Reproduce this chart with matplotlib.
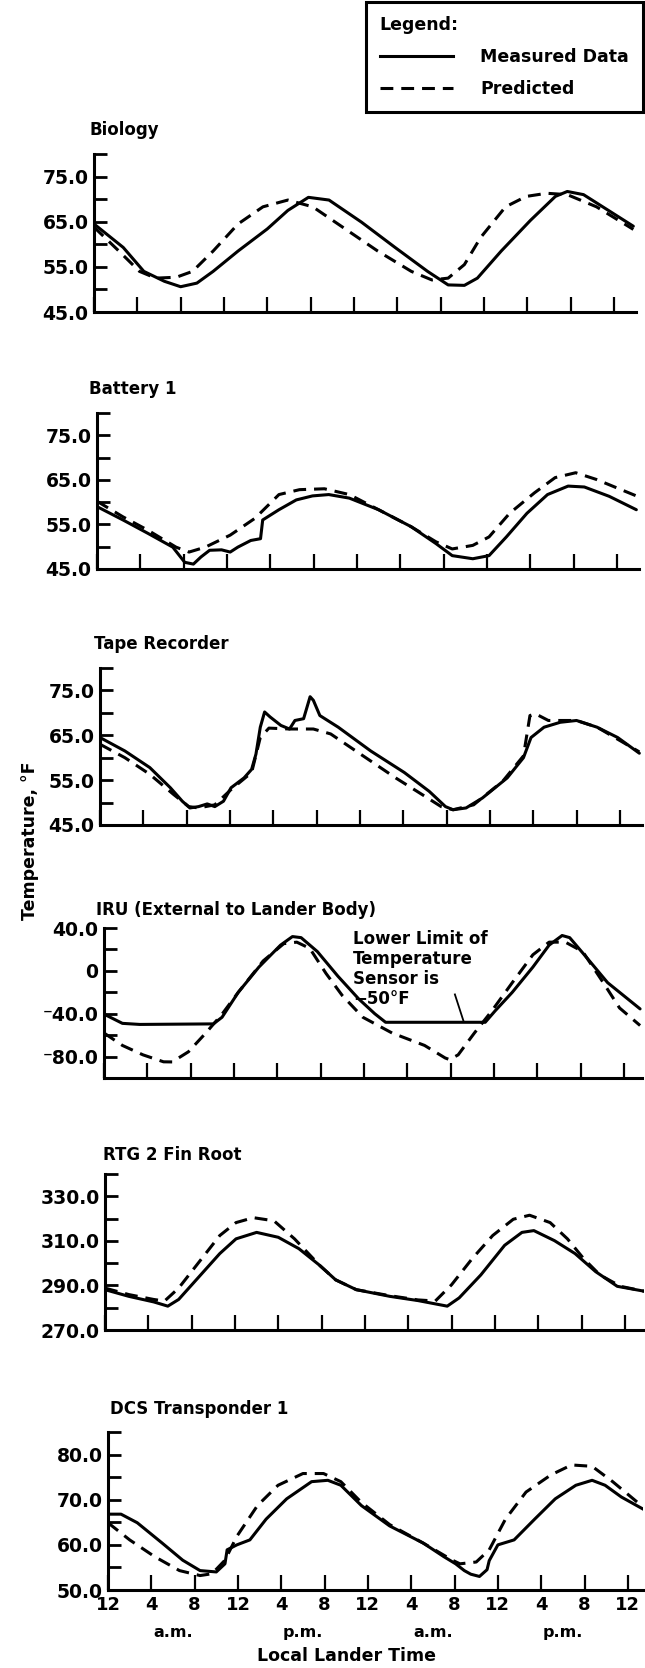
import matplotlib
matplotlib.use('Agg')
import matplotlib.pyplot as plt
from matplotlib.lines import Line2D

plt.rcParams['font.family'] = ['DejaVu Sans']
plt.rcParams['font.weight'] = 'bold'

W, H = 645, 1668

# hours after local midnight (0 .. 48), temperature in deg F
bio_meas_t = [0, 2.7, 4.6, 6.5, 8, 9.5, 11, 13.3, 16, 17.9, 19.8, 21.7, 24.7, 27.8, 30.8, 32.7, 34.2, 35.4, 37.6, 40.3, 42.6, 43.7, 45.2, 47.5, 49.8]
bio_meas = [64.5, 59.3, 54, 51.8, 50.6, 51.4, 54, 58.5, 63.4, 67.5, 70.4, 69.8, 64.9, 59.3, 54, 51, 50.9, 52.5, 58.5, 65.3, 70.6, 71.7, 71, 67.5, 64.0]
bio_pred_t = [0, 2.3, 4.2, 5.7, 7.6, 9.1, 11, 13.3, 15.6, 17.9, 20.2, 23.2, 26.2, 29.3, 31.2, 32.7, 34.2, 35.7, 38, 39.9, 41.8, 43.7, 46.4, 49.8]
bio_pred = [63.8, 58.5, 54, 52.5, 52.7, 54, 58.5, 64.5, 68.3, 69.8, 68.3, 63.4, 58.5, 54, 52.1, 52.5, 55.5, 61.5, 68.3, 70.6, 71.3, 71, 68.3, 63.3]

bat_meas_t = [0, 2.4, 4.7, 7, 8.1, 8.9, 9.6, 10.4, 11.5, 12.3, 13, 14.2, 15.1, 15.3, 16.8, 18.4, 19.9, 21.4, 23.3, 26, 29, 31.3, 32.8, 34.7, 36.2, 37.8, 39.7, 41.6, 43.5, 45, 47.3, 49.8]
bat_meas = [59, 56, 53, 49.9, 46.5, 46.1, 47.7, 49.2, 49.3, 48.8, 49.9, 51.4, 51.8, 56, 58.3, 60.5, 61.4, 61.7, 60.9, 58.3, 54.5, 50.7, 48, 47.3, 48, 52.2, 57.5, 61.7, 63.6, 63.4, 61.3, 58.3]
bat_pred_t = [0, 2.4, 4.7, 7.3, 8.5, 10, 12.3, 14.6, 16.8, 18.7, 21, 23.3, 26, 29, 31.3, 32.8, 34.7, 36.2, 38.1, 40.4, 42.3, 44.2, 46.1, 49.8]
bat_pred = [60.2, 56.7, 53.7, 49.9, 48.8, 49.9, 52.6, 56.4, 61.7, 62.8, 63, 61.7, 58.3, 54.5, 51.1, 49.5, 50.3, 52.2, 57.5, 62.1, 65.5, 66.6, 65.1, 61.4]

tape_meas_t = [0, 2.3, 4.6, 6.5, 7.6, 8.3, 9.1, 9.9, 10.6, 11.4, 12.1, 13.3, 14, 14.4, 14.8, 15.2, 15.7, 16.7, 17.5, 18, 18.8, 19.4, 19.7, 20.3, 22, 25, 28.1, 30.4, 31.9, 32.6, 33.8, 35.3, 37.6, 39.1, 39.8, 41, 42.5, 44, 45.9, 47.8, 49.8]
tape_meas = [64.5, 61.5, 57.8, 53.3, 50.3, 48.8, 49.1, 49.7, 49.1, 50.3, 53.3, 55.5, 57.4, 60.8, 66.8, 70.2, 69.1, 67.2, 66.4, 68.3, 68.7, 73.6, 72.8, 69.4, 66.8, 61.5, 56.7, 52.5, 49.1, 48.4, 48.8, 51, 55.5, 60, 64.5, 66.8, 67.9, 68.3, 66.8, 64.5, 61.0]
tape_pred_t = [0, 2.3, 4.6, 6.8, 8.2, 9.1, 10.6, 12.1, 14, 14.8, 15.6, 17.5, 19.7, 21.3, 24.3, 27.3, 30, 31.5, 32.6, 34.5, 37.2, 39.1, 39.7, 40.2, 41.4, 44, 45.9, 49.8]
tape_pred = [63, 60, 56.3, 51.8, 49.1, 48.8, 49.5, 52.9, 56.7, 64.5, 66.6, 66.4, 66.4, 65.3, 60.4, 55.5, 51.4, 49.1, 48.4, 49.5, 54.8, 60.4, 69.4, 69.8, 68.3, 68.3, 66.8, 61.3]

iru_meas_t = [0, 1.7, 3.3, 10.1, 10.9, 12.4, 14.3, 16.3, 17.4, 18.2, 19.7, 21.6, 23.5, 25, 26, 35.2, 36.1, 37.7, 39.6, 41.1, 42.3, 43, 44.6, 46.5, 49.5]
iru_meas = [-40.4, -49, -50, -49.5, -43.3, -20, 3.5, 24, 32, 31, 18, -5, -26, -40, -48, -48, -37.5, -20, 3.5, 24, 33, 31, 12, -11, -35.5]
iru_pred_t = [0, 1.7, 3.6, 5.5, 6.3, 7.8, 9.4, 10.9, 12.4, 14.7, 16.6, 17.8, 19, 20.5, 22, 23.9, 26.6, 29.6, 31.5, 31.9, 32.7, 34.2, 35.8, 37.7, 39.6, 41.1, 42.6, 44.2, 46.1, 47.6, 49.5]
iru_pred = [-58, -69.6, -78.4, -84.9, -85, -75.5, -58, -40.4, -20, 9.3, 25.4, 26.8, 21, -2.4, -23, -43.3, -58, -69.6, -81.3, -82.8, -78.4, -58, -37.5, -11, 15, 26.8, 26.8, 18, -11, -34.6, -51]

rtg_meas_t = [0, 2.2, 4.5, 5.8, 6.8, 8.7, 10.6, 12.1, 14, 16, 17.9, 19.8, 21.3, 23.2, 26.3, 28.9, 31.6, 32.7, 34.7, 36.9, 38.5, 39.6, 41.5, 43.4, 45.3, 47.3, 49.8]
rtg_meas = [288.1, 285.1, 282.6, 280.7, 283.7, 294, 304.3, 310.9, 313.8, 311.6, 306.5, 299.1, 292.5, 288.1, 285.1, 283.2, 280.7, 284.4, 294.7, 308, 313.8, 314.6, 310.1, 304.3, 296.2, 289.6, 287.4]
rtg_pred_t = [0, 2.2, 4.5, 5.5, 6.8, 8.7, 10.6, 12.1, 13.7, 15.6, 17.5, 19.8, 21.3, 23.2, 26.3, 28.9, 30.5, 32, 33.9, 35.8, 37.7, 39.2, 41.1, 42.7, 44.2, 45.7, 47.6, 49.8]
rtg_pred = [288.8, 285.9, 283.7, 283, 288.8, 300.6, 312.4, 318.2, 320.4, 319, 310.9, 299.1, 292.5, 288.1, 285.4, 283.5, 283, 290.3, 302, 312.4, 319.7, 321.5, 318.2, 310.9, 302, 294.7, 289.6, 287.4]

dcs_meas_t = [0, 1.2, 2.7, 5, 6.9, 8.5, 10, 10.8, 11, 11.9, 13.1, 14.6, 16.5, 18.8, 20.3, 21.5, 23.4, 26, 29.1, 31, 32.1, 32.9, 33.5, 34.3, 35, 35.2, 36, 37.5, 39.4, 41.3, 43.2, 44.7, 45.9, 47.4, 49.5]
dcs_meas = [66.8, 66.8, 64.9, 60.4, 56.6, 54.3, 54, 55.8, 58.9, 60, 61.1, 65.7, 70.2, 74, 74.3, 73.2, 68.7, 64.2, 60.4, 57.4, 55.8, 54.3, 53.5, 53, 54.5, 56.5, 60, 61.1, 65.7, 70.2, 73.2, 74.3, 73.2, 70.6, 67.8]
dcs_pred_t = [0, 2, 4.3, 6.6, 8.5, 9.6, 10.8, 11.9, 13.8, 15.7, 18, 19.9, 21.5, 23.4, 26, 29.1, 31.8, 32.5, 34, 35.2, 36.7, 38.6, 40.9, 42.8, 44.7, 46.6, 49.5]
dcs_pred = [64.9, 61.1, 57.4, 54.3, 53.2, 53.6, 56.6, 61.9, 68.7, 73.2, 75.8, 75.8, 74, 69.4, 64.5, 60.4, 56.6, 55.8, 56.2, 58.9, 65.7, 71.7, 75.5, 77.7, 77.4, 74, 68.2]

titles = ['Biology', 'Battery 1', 'Tape Recorder', 'IRU (External to Lander Body)', 'RTG 2 Fin Root', 'DCS Transponder 1']
y_ticks = [
    [45, 50, 55, 60, 65, 70, 75, 80],
    [45, 50, 55, 60, 65, 70, 75, 80],
    [45, 50, 55, 60, 65, 70, 75, 80],
    [-100, -80, -60, -40, -20, 0, 20, 40],
    [270, 280, 290, 300, 310, 320, 330, 340],
    [50, 55, 60, 65, 70, 75, 80, 85],
]
y_labels = [
    ['45.0', '', '55.0', '', '65.0', '', '75.0', ''],
    ['45.0', '', '55.0', '', '65.0', '', '75.0', ''],
    ['45.0', '', '55.0', '', '65.0', '', '75.0', ''],
    ['', '\u207b80.0', '', '\u207b40.0', '', '0', '', '40.0'],
    ['270.0', '', '290.0', '', '310.0', '', '330.0', ''],
    ['50.0', '', '60.0', '', '70.0', '', '80.0', ''],
]
x_ticks = list(range(0, 49, 4))
x_labels = ['12', '4', '8', '12', '4', '8', '12', '4', '8', '12', '4', '8', '12']
series = [
    (bio_meas_t, bio_meas, bio_pred_t, bio_pred),
    (bat_meas_t, bat_meas, bat_pred_t, bat_pred),
    (tape_meas_t, tape_meas, tape_pred_t, tape_pred),
    (iru_meas_t, iru_meas, iru_pred_t, iru_pred),
    (rtg_meas_t, rtg_meas, rtg_pred_t, rtg_pred),
    (dcs_meas_t, dcs_meas, dcs_pred_t, dcs_pred),
]

# layout in pixels: (spine x, top y, bottom y, title x, title y, right end of x axis in hours)
boxes = [
    (94, 154, 312, 89, 130, 50.0),
    (97, 413, 569, 89, 389, 50.0),
    (100, 668, 825, 94, 644, 50.0),
    (104, 928, 1078, 96, 910, 49.7),
    (105, 1174, 1330, 103, 1155, 49.8),
    (108, 1432, 1590, 110, 1409, 49.4),
]
PX_PER_HOUR = 10.83
lw = 2.2
dash = (0, (4.2, 2.6))

fig = plt.figure(figsize=(W / 100, H / 100), dpi=100)

for i in range(6):
    left, top, bot, tx, ty, xmax = boxes[i]
    ax = fig.add_axes([left / W, 1 - bot / H, xmax * PX_PER_HOUR / W, (bot - top) / H])
    mt, my, pt, py = series[i]
    ax.plot(mt, my, color='black', lw=lw, solid_joinstyle='round', solid_capstyle='round')
    ax.plot(pt, py, color='black', lw=lw, linestyle=dash, dash_capstyle='butt')
    ax.set_xlim(0, xmax)
    ax.set_ylim(y_ticks[i][0], y_ticks[i][-1])
    for s in ['top', 'right']:
        ax.spines[s].set_visible(False)
    for s in ['left', 'bottom']:
        ax.spines[s].set_linewidth(2.2)
    ax.set_yticks(y_ticks[i])
    ax.set_yticklabels(y_labels[i], fontsize=13.5, fontweight='bold')
    ax.set_xticks(x_ticks)
    ax.tick_params(axis='y', direction='in', length=9, width=2.0, pad=4)
    ax.tick_params(axis='x', direction='in', length=11, width=1.6, pad=4)
    ax.patch.set_alpha(0)
    if i == 5:
        ax.set_xticklabels(x_labels, fontsize=13, fontweight='bold')
        for hx, txt in zip([6, 18, 30, 42], ['a.m.', 'p.m.', 'a.m.', 'p.m.']):
            ax.text(hx, -0.27, txt, transform=ax.get_xaxis_transform(), ha='center', va='center',
                    fontsize=11.5, fontweight='bold')
        ax.text(22, -0.42, 'Local Lander Time', transform=ax.get_xaxis_transform(),
                ha='center', va='center', fontsize=12.5, fontweight='bold')
    else:
        ax.set_xticklabels([])
    if i == 3:
        ax.text(23.0, 38, 'Lower Limit of\nTemperature\nSensor is\n\u221250\u00b0F', ha='left', va='top',
                fontsize=12, fontweight='bold', linespacing=1.15)
        ax.plot([32.4, 33.2], [-22, -47], color='black', lw=1.3)
    fig.text(tx / W, 1 - ty / H, titles[i], ha='left', va='center', fontsize=12, fontweight='bold')

fig.text(30 / W, 1 - 841 / H, 'Temperature, \u00b0F', rotation=90, ha='center', va='center',
         fontsize=12.5, fontweight='bold')

handles = [Line2D([], [], color='black', lw=lw),
           Line2D([], [], color='black', lw=lw, linestyle=dash)]
leg = fig.legend(handles, ['Measured Data', 'Predicted'], loc='upper right',
                 bbox_to_anchor=(643 / W, 1 - 2 / H), title='Legend:', alignment='left',
                 fontsize=12.5, title_fontproperties={'size': 12.5, 'weight': 'bold'},
                 frameon=True, fancybox=False, edgecolor='black', framealpha=1,
                 handlelength=4.2, handletextpad=1.6, borderpad=0.8, labelspacing=0.8,
                 borderaxespad=0)
leg.get_frame().set_linewidth(2.2)

fig.savefig('out.png', dpi=100)
